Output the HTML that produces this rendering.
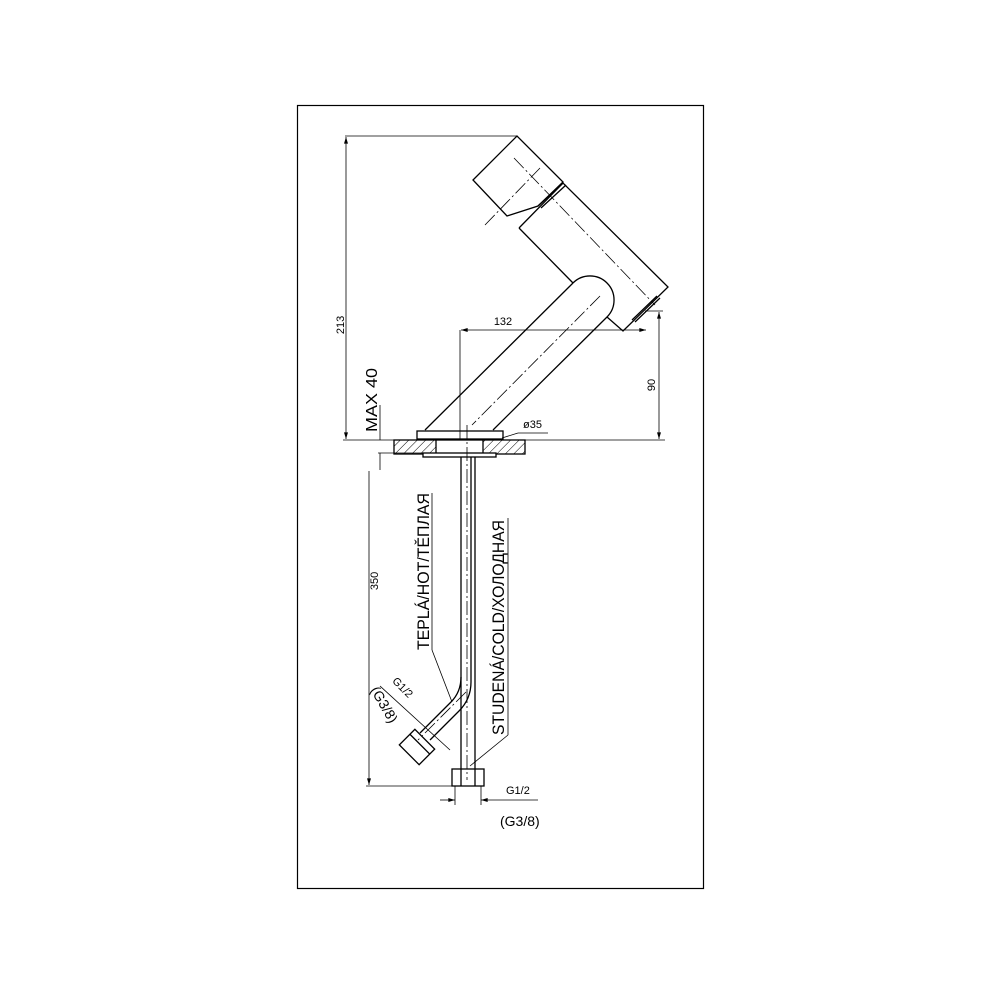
<!DOCTYPE html>
<html><head><style>body{margin:0;background:#fff}svg{display:block}text{font-family:"Liberation Sans","DejaVu Sans",sans-serif;fill:#000}</style></head>
<body>
<svg width="1000" height="1000" viewBox="0 0 1000 1000" xmlns="http://www.w3.org/2000/svg">
<defs>
<pattern id="h" width="6" height="6" patternUnits="userSpaceOnUse" patternTransform="rotate(45)"><line x1="0" y1="0" x2="0" y2="6" stroke="#000" stroke-width="1"/></pattern>
<marker id="a" viewBox="0 0 10 6" refX="10" refY="3" markerWidth="8" markerHeight="4" orient="auto-start-reverse" markerUnits="userSpaceOnUse"><path d="M0,0 L10,3 L0,6z" fill="#000"/></marker>
</defs>
<rect x="297.5" y="105.5" width="406" height="783" fill="none" stroke="#000" stroke-width="1.2"/>
<g fill="none" stroke="#000" stroke-width="1.3">
<polygon points="473,180 517,136 563,182 538,206 507,216"/>
<line x1="538" y1="206" x2="563" y2="183"/><line x1="541" y1="208" x2="566" y2="185"/>
<polyline points="519,228 563,183 668,287 623,331 607,317"/>
<line x1="519" y1="228" x2="573" y2="283"/>
<path d="M573,283 A24,24 0 0 1 607,317 L493,430"/>
<line x1="573" y1="283" x2="425" y2="430"/>
<line x1="635" y1="322" x2="660" y2="298"/><line x1="632" y1="320" x2="657" y2="296"/>
<rect x="417" y="431" width="86" height="8"/>
<rect x="394" y="440" width="131" height="14" fill="url(#h)"/>
<rect x="436" y="440" width="47" height="14" fill="#fff"/>
<rect x="423" y="453" width="73" height="4" fill="#fff"/>
<line x1="461" y1="457" x2="461" y2="770"/><line x1="475" y1="457" x2="475" y2="770"/>
<path d="M461,677 Q461,692 451,702 L420,733"/>
<path d="M471,457 L471,682 Q471,699 459,711 L430,740"/>
<rect x="452" y="769" width="32" height="17"/>
<line x1="461" y1="770" x2="461" y2="786"/><line x1="475" y1="770" x2="475" y2="786"/>
<g transform="translate(417,747) rotate(45)"><rect x="-14" y="-11" width="28" height="22"/><line x1="-14" y1="-4" x2="14" y2="-4"/></g>
</g>
<g fill="none" stroke="#000" stroke-width="0.8" stroke-dasharray="14,3,2,3">
<line x1="485" y1="225" x2="540" y2="168"/>
<line x1="514" y1="158" x2="655" y2="305"/>
<line x1="600" y1="296" x2="472" y2="425"/>
<line x1="467" y1="425" x2="467" y2="780"/>
<line x1="466" y1="692" x2="418" y2="740"/>
</g>
<g fill="none" stroke="#000" stroke-width="0.8">
<line x1="345" y1="136" x2="517" y2="136"/>
<line x1="346" y1="137" x2="346" y2="439" marker-start="url(#a)" marker-end="url(#a)"/>
<line x1="343" y1="440" x2="665" y2="440"/>
<line x1="461" y1="330" x2="646" y2="330" marker-start="url(#a)" marker-end="url(#a)"/>
<line x1="460" y1="330" x2="460" y2="440"/>
<line x1="645" y1="311" x2="663" y2="311"/>
<line x1="659" y1="312" x2="659" y2="439" marker-start="url(#a)" marker-end="url(#a)"/>
<line x1="380" y1="405" x2="380" y2="440"/>
<line x1="380" y1="453" x2="380" y2="470"/>
<line x1="378" y1="453" x2="425" y2="453"/>
<line x1="369" y1="471" x2="369" y2="785" marker-end="url(#a)"/>
<line x1="366" y1="786" x2="455" y2="786"/>
<line x1="455" y1="786" x2="455" y2="805"/><line x1="481" y1="786" x2="481" y2="805"/>
<line x1="440" y1="800" x2="455" y2="800" marker-end="url(#a)"/><line x1="538" y1="800" x2="481" y2="800" marker-end="url(#a)"/>
<line x1="502" y1="438" x2="518" y2="433"/><line x1="518" y1="433" x2="548" y2="433"/>
<line x1="432" y1="493" x2="432" y2="650"/><line x1="432" y1="650" x2="452" y2="702"/>
<line x1="508" y1="518" x2="508" y2="735"/><line x1="508" y1="735" x2="470" y2="766"/>
<line x1="380" y1="686" x2="450" y2="750"/>
</g>
<g font-size="11">
<text transform="translate(344,325) rotate(-90)" text-anchor="middle">213</text>
<text x="503" y="325" text-anchor="middle">132</text>
<text transform="translate(655,385) rotate(-90)" text-anchor="middle">90</text>
<text x="523" y="428">ø35</text>
<text transform="translate(377,432) rotate(-90)" font-size="16" textLength="64" lengthAdjust="spacingAndGlyphs">MAX 40</text>
<text transform="translate(378,581) rotate(-90)" text-anchor="middle">350</text>
<text transform="translate(429,650) rotate(-90)" font-size="17" textLength="157" lengthAdjust="spacingAndGlyphs">TEPLÁ/HOT/TĚПЛАЯ</text>
<text transform="translate(504,735) rotate(-90)" font-size="17" textLength="215" lengthAdjust="spacingAndGlyphs">STUDENÁ/COLD/ХОЛОДНАЯ</text>
<text x="506" y="794">G1/2</text>
<text x="500" y="826" font-size="14">(G3/8)</text>
<text transform="translate(400,690) rotate(45)" text-anchor="middle">G1/2</text>
<text transform="translate(380,707) rotate(60)" text-anchor="middle" font-size="14">(G3/8)</text>
</g>
</svg>
</body></html>
